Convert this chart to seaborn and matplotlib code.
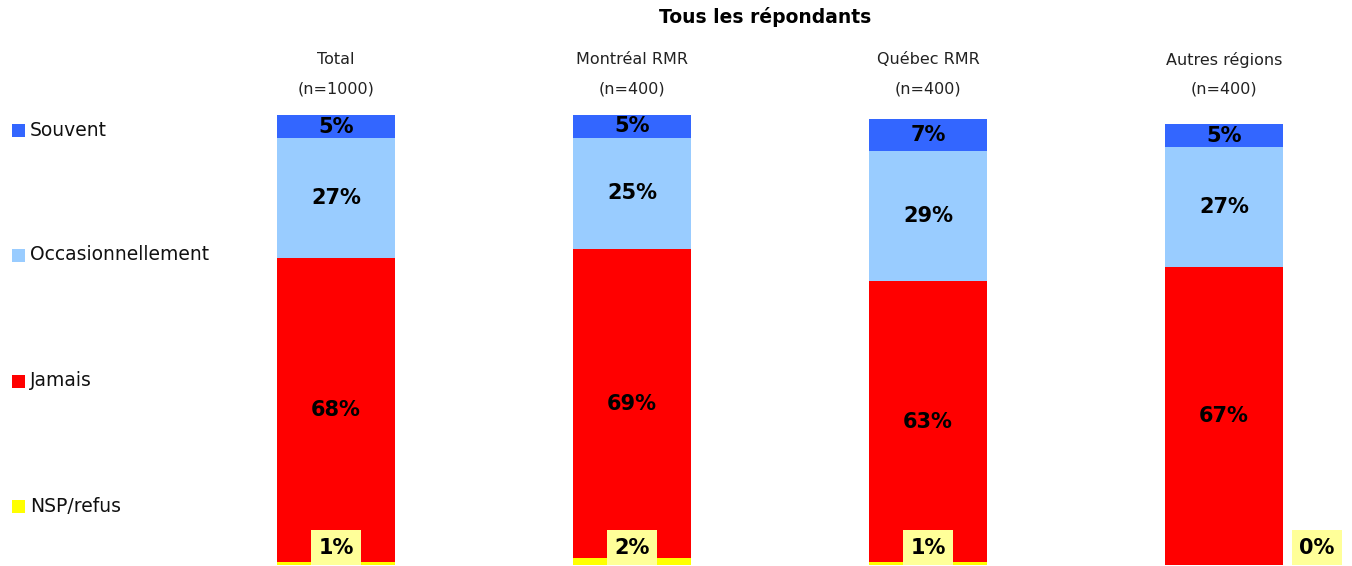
import pandas as pd
import matplotlib.pyplot as plt
import matplotlib.patches as mpatches
import seaborn as sns

# data
categories = ["Total", "Montréal RMR", "Québec RMR", "Autres régions"]
n_labels = ["(n=1000)", "(n=400)", "(n=400)", "(n=400)"]
nsp = [0.7, 1.5, 0.6, 0.0]
jamais = [68.1, 69.4, 63.1, 66.8]
occasionnellement = [26.9, 24.9, 29.1, 26.9]
souvent = [5.2, 5.2, 7.2, 5.2]

series_names = ["NSP/refus", "Jamais", "Occasionnellement", "Souvent"]
series_vals = [nsp, jamais, occasionnellement, souvent]
colors = ["#FFFF00", "#FF0000", "#99CCFF", "#3366FF"]

sns.set_style("white")
plt.rcParams["font.family"] = ["DejaVu Sans"]

# long table with cumulative tops for layered stacking
rows = []
for i, cat in enumerate(categories):
    cum = 0
    for name, vals in zip(series_names, series_vals):
        bottom = cum
        cum += vals[i]
        rows.append({"cat": cat, "serie": name, "val": vals[i], "bottom": bottom, "top": cum})
df = pd.DataFrame(rows)

fig = plt.figure(figsize=(13.52, 5.66), dpi=100)
W, H = 1352, 566
px_per_pct = 4.46
# axes box in pixels (x from left, y from top)
ax_left, ax_right, ax_top_px, ax_bot_px = 250, 1352, 100, 565
ax = fig.add_axes([ax_left / W, (H - ax_bot_px) / H,
                   (ax_right - ax_left) / W, (ax_bot_px - ax_top_px) / H])

# draw from tallest stack to smallest so each layer shows
for name, col in reversed(list(zip(series_names, colors))):
    sub = df[df["serie"] == name]
    sns.barplot(data=sub, x="cat", y="top", order=categories, color=col,
                width=0.4, saturation=1, linewidth=0, ax=ax)

ax.set_xlim((ax_left - 336) / 296, (ax_right - 336) / 296)
ax.set_ylim(0, (ax_bot_px - ax_top_px) / px_per_pct)
ax.axis("off")

# segment labels
for _, r in df.iterrows():
    i = categories.index(r["cat"])
    txt = f"{r['val']:.0f}%"
    if r["serie"] == "NSP/refus":
        xo = 0.314 if r["val"] == 0 else 0
        ax.text(i + xo, 3.9, txt, ha="center", va="center", fontsize=15, fontweight="bold",
                color="black", clip_on=False,
                bbox=dict(boxstyle="square,pad=0.35", fc="#FFFF99", ec="none"))
    else:
        ax.text(i, (r["bottom"] + r["top"]) / 2, txt, ha="center", va="center",
                fontsize=15, fontweight="bold", color="black")

# category headers
for i, (cat, n) in enumerate(zip(categories, n_labels)):
    xf = (336 + 296 * i) / W
    fig.text(xf, 1 - 60 / H, cat, ha="center", va="center", fontsize=11.5, color="#222222")
    fig.text(xf, 1 - 89 / H, n, ha="center", va="center", fontsize=11.5, color="#222222")

fig.text(765 / W, 1 - 17 / H, "Tous les répondants", ha="center", va="center",
         fontsize=13.5, fontweight="bold", color="black")

# left-hand legend
legend_y = [130, 255, 381, 506]
for name, col, y in zip(reversed(series_names), reversed(colors), legend_y):
    fig.patches.append(mpatches.Rectangle((12 / W, 1 - (y + 7) / H), 13 / W, 13 / H,
                                          transform=fig.transFigure, fc=col, ec="none"))
    fig.text(30 / W, 1 - y / H, name, ha="left", va="center", fontsize=13.5, color="#111111")

plt.savefig("out.png", dpi=100)
plt.close()
